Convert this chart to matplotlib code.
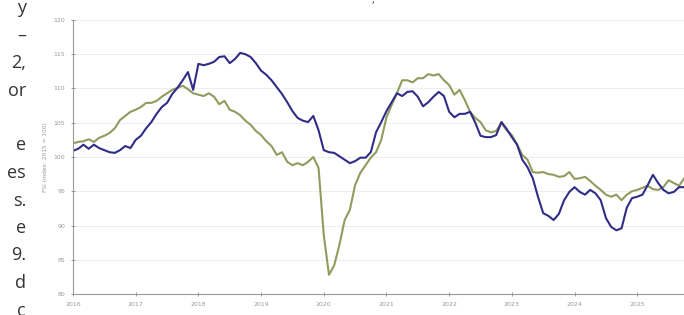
"""FSI index chart, two monthly series 2016-2025, with cropped page text on the left."""
import matplotlib
matplotlib.use("Agg")
import matplotlib.pyplot as plt
import numpy as np

# monthly values from Jan 2016
start_year = 2016
blue_vals = [
    100.9, 101.2, 101.8, 101.2, 101.8, 101.3, 101.0, 100.7, 100.6, 101.0, 101.6, 101.3,
    102.5, 103.1, 104.2, 105.1, 106.3, 107.3, 107.9, 109.2, 110.1, 111.2, 112.4, 109.8,
    113.6, 113.4, 113.6, 113.9, 114.6, 114.7, 113.7, 114.3, 115.2, 115.0, 114.6, 113.7,
    112.6, 112.0, 111.2, 110.2, 109.2, 108.0, 106.7, 105.7, 105.3, 105.1, 106.0, 103.9,
    101.0, 100.7, 100.6, 100.1, 99.6, 99.1, 99.4, 99.9, 99.9, 100.7, 103.6, 105.1,
    106.7, 108.0, 109.3, 108.9, 109.5, 109.6, 108.8, 107.4, 108.0, 108.8, 109.5, 108.9,
    106.6, 105.8, 106.3, 106.3, 106.6, 105.0, 103.1, 102.9, 102.9, 103.2, 105.1, 104.1,
    102.9, 101.8, 99.6, 98.5, 96.9, 94.2, 91.8, 91.4, 90.8, 91.7, 93.7, 94.9,
    95.6, 94.9, 94.5, 95.2, 94.7, 93.7, 91.1, 89.8, 89.3, 89.6, 92.6, 94.0,
    94.2, 94.5, 95.9, 97.4, 96.2, 95.2, 94.7, 94.9, 95.6, 95.6, 95.6,
]
green_vals = [
    102.0, 102.2, 102.3, 102.6, 102.2, 102.8, 103.1, 103.5, 104.2, 105.4, 106.0, 106.6,
    106.9, 107.3, 107.9, 107.9, 108.2, 108.8, 109.3, 109.8, 110.1, 110.4, 109.9, 109.3,
    109.1, 108.9, 109.3, 108.8, 107.7, 108.2, 106.9, 106.6, 106.1, 105.3, 104.7, 103.8,
    103.2, 102.3, 101.6, 100.3, 100.7, 99.3, 98.8, 99.1, 98.8, 99.3, 100.0, 98.4,
    88.6, 82.8, 84.2, 87.2, 90.8, 92.3, 95.9, 97.7, 98.8, 99.9, 100.7, 102.5,
    105.8, 107.6, 109.3, 111.2, 111.2, 110.9, 111.5, 111.5, 112.1, 111.9, 112.1, 111.2,
    110.5, 109.1, 109.8, 108.3, 106.6, 105.7, 105.1, 103.9, 103.6, 103.8, 105.0, 103.9,
    103.2, 101.8, 100.3, 99.6, 97.8, 97.7, 97.8, 97.5, 97.4, 97.1, 97.2, 97.8,
    96.8, 96.9, 97.1, 96.5, 95.8, 95.2, 94.5, 94.2, 94.5, 93.7, 94.5, 95.0,
    95.2, 95.5, 95.8, 95.3, 95.2, 95.6, 96.6, 96.2, 95.8, 96.9, 97.7,
]
year_ticks = list(range(2016, 2026))
y_ticks = [80, 85, 90, 95, 100, 105, 110, 115, 120]
y_label = "FSI (index: 2015 = 100)"
side_words = ["y", "–", "2,", "or", "", "e", "es", "s.", "e", "9.", "d", "c"]

W, H = 684, 315
fig = plt.figure(figsize=(W / 100, H / 100), dpi=100)
ax = fig.add_axes([73 / W, 21 / H, (W - 73) / W + 0.01, 274 / H])

t = start_year + np.arange(len(blue_vals)) / 12
ax.plot(t, green_vals, color="#8f9c5e", lw=1.5, solid_joinstyle="round")
ax.plot(t, blue_vals, color="#2f2d88", lw=1.5, solid_joinstyle="round")

ax.set_ylim(80, 120)
ax.set_xlim(2016, 2016 + (W - 73) / 62)
ax.set_yticks(y_ticks)
ax.set_xticks(year_ticks)
ax.set_yticklabels([str(v) for v in y_ticks])
ax.set_xticklabels([str(v) for v in year_ticks])
ax.tick_params(axis="both", labelsize=4.5, colors="#888888", labelcolor="#999999",
               direction="inout", length=3, width=0.6, pad=4)
ax.grid(axis="y", color="#eeeeee", lw=0.8)
ax.set_axisbelow(True)
for s in ("top", "right"):
    ax.spines[s].set_visible(False)
for s in ("left", "bottom"):
    ax.spines[s].set_color("#999999")
    ax.spines[s].set_linewidth(0.8)
ax.set_ylabel(y_label, fontsize=4.2, color="#999999", labelpad=4)

for i, w in enumerate(side_words):
    if w:
        fig.text(26 / W, 1 - (8 + i * 27.5) / H, w, ha="right", va="center",
                 fontsize=13, color="#333333", family="Open Sans")
fig.text(373 / W, 1 - 1 / H, ",", ha="center", va="center", fontsize=8,
         color="#444444", family="Open Sans")

fig.savefig("out.png", dpi=100)
